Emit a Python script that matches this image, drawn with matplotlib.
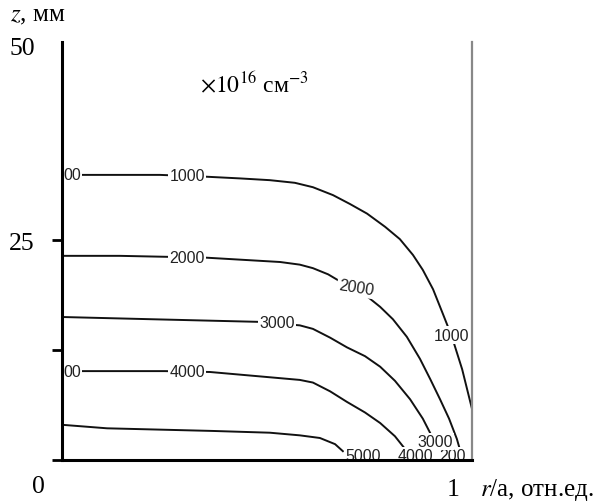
import matplotlib.pyplot as plt

plt.rcParams['font.family'] = ['Liberation Serif', 'DejaVu Serif']
plt.rcParams['mathtext.fontset'] = 'stix'

# contour lines: r (rel. units), z (mm)
r_1000 = [0, 0.141, 0.239, 0.349, 0.434, 0.507, 0.568, 0.612, 0.661, 0.702, 0.744, 0.788,
          0.824, 0.856, 0.880, 0.905, 0.929, 0.951, 0.976, 1.0]
z_1000 = [32.4, 32.4, 32.4, 32.2, 32.0, 31.8, 31.5, 31.0, 30.1, 29.1, 28.0, 26.5,
          25.1, 23.3, 21.6, 19.4, 16.6, 14.0, 10.3, 5.8]

r_2000 = [0, 0.141, 0.349, 0.459, 0.532, 0.580, 0.612, 0.649, 0.678, 0.715, 0.744, 0.776,
          0.807, 0.841, 0.873, 0.898, 0.922, 0.944, 0.963, 0.976]
z_2000 = [23.2, 23.2, 23.0, 22.7, 22.5, 22.2, 21.8, 21.1, 20.3, 19.4, 18.6, 17.4,
          16.0, 14.0, 11.5, 9.2, 6.9, 4.7, 2.4, 0.3]

r_3000 = [0, 0.215, 0.478, 0.580, 0.612, 0.654, 0.695, 0.739, 0.776, 0.812, 0.849, 0.880, 0.902]
z_3000 = [16.25, 16.0, 15.7, 15.3, 14.9, 13.9, 12.8, 11.8, 10.6, 9.0, 6.9, 4.7, 2.7]

r_4000 = [0, 0.251, 0.361, 0.507, 0.580, 0.612, 0.654, 0.695, 0.739, 0.776, 0.812, 0.841]
z_4000 = [10.1, 10.1, 10.0, 9.4, 9.1, 8.8, 7.8, 6.6, 5.4, 4.2, 2.7, 1.0]

r_5000 = [0, 0.110, 0.368, 0.507, 0.580, 0.629, 0.666, 0.685]
z_5000 = [4.0, 3.6, 3.3, 3.1, 2.8, 2.5, 1.8, 1.0]

lines = [(r_1000, z_1000), (r_2000, z_2000), (r_3000, z_3000),
         (r_4000, z_4000), (r_5000, z_5000)]

# inline labels: text, r, z, rotation
labels = [
    ("00", 0.024, 32.4, 0), ("1000", 0.305, 32.3, 0), ("1000", 0.949, 14.2, 0),
    ("2000", 0.305, 23.0, 0), ("2000", 0.717, 19.6, -9), ("200", 0.953, 0.5, 0),
    ("3000", 0.524, 15.6, 0), ("3000", 0.910, 2.1, 0),
    ("00", 0.024, 10.1, 0), ("4000", 0.305, 10.1, 0), ("4000", 0.861, 0.5, 0),
    ("5000", 0.734, 0.5, 0),
]

fig = plt.figure(figsize=(6.06, 5.02), dpi=100)
ax = fig.add_axes([0.1023, 0.0817, 0.6766, 0.8326])

for r, z in lines:
    ax.plot(r, z, color='#111111', lw=1.4, zorder=1, solid_joinstyle='round')

for txt, r, z, rot in labels:
    ax.text(r, z, txt, family='Liberation Sans', fontsize=11.5, color='#222222',
            ha='center', va='center', rotation=rot, zorder=2,
            bbox=dict(facecolor='white', edgecolor='none', pad=1.0))

ax.set_xlim(0, 1)
ax.set_ylim(0, 47.5)

ax.spines['top'].set_visible(False)
ax.spines['left'].set_linewidth(2.2)
ax.spines['bottom'].set_linewidth(2.2)
ax.spines['right'].set_color('#888888')
ax.spines['right'].set_linewidth(1.6)
for s in ax.spines.values():
    s.set_zorder(3)

ax.set_xticks([])
ax.set_yticks([0, 12.5, 25])
ax.set_yticklabels(["", "", "25"], fontsize=18.5)
ax.tick_params(axis='y', direction='out', length=7, width=2, pad=13)

ax.text(-0.065, 0.985, "50", transform=ax.transAxes, fontsize=18.5, ha='right', va='center')
ax.text(-0.058, -0.063, "0", transform=ax.transAxes, fontsize=18.5, ha='center', va='center')
ax.text(0.955, -0.07, "1", transform=ax.transAxes, fontsize=18.5, ha='center', va='center')
ax.text(1.02, -0.07, "$r$/a, отн.ед.", transform=ax.transAxes, fontsize=18, ha='left', va='center')
ax.text(-0.128, 1.065, "$z$, мм", transform=ax.transAxes, fontsize=18, ha='left', va='center')
ax.text(0.47, 0.9, r"$\times10^{16}$ см$^{-3}$", transform=ax.transAxes, fontsize=17, ha='center', va='center')

fig.savefig("out.png", dpi=100)
